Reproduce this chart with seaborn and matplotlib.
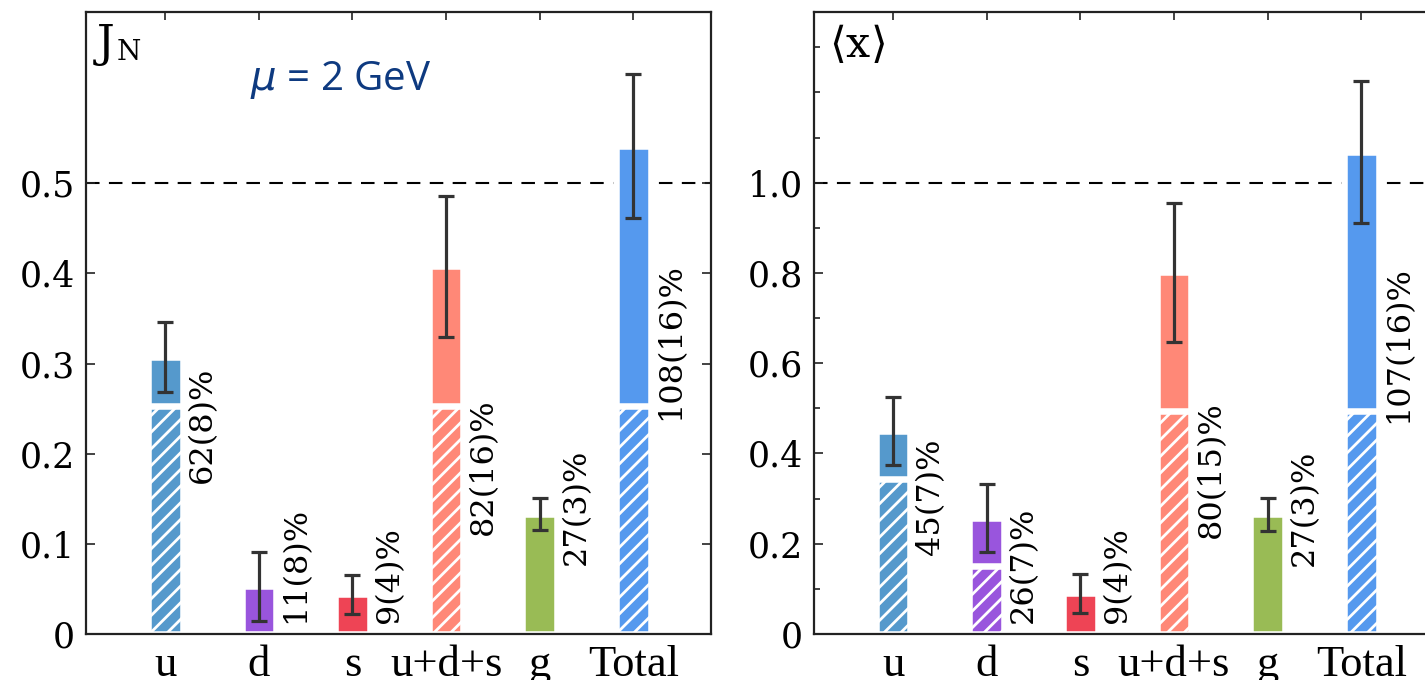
import numpy as np
import pandas as pd
import matplotlib
matplotlib.use("Agg")
import matplotlib.pyplot as plt
import seaborn as sns
from matplotlib.ticker import FixedLocator, FixedFormatter

# ---------------- data ----------------
categories = ["u", "d", "s", "u+d+s", "g", "Total"]
colors = ["#5599cc", "#9955dd", "#ee4455", "#ff8877", "#99bb55", "#5599ee"]

# Left panel: J_N
J_values = [0.307, 0.053, 0.044, 0.408, 0.133, 0.541]
J_errors = [0.039, 0.038, 0.022, 0.078, 0.018, 0.080]
J_hatched = [0.253, 0.0, 0.0, 0.253, 0.0, 0.253]
J_labels = ["62(8)%", "11(8)%", "9(4)%", "82(16)%", "27(3)%", "108(16)%"]

# Right panel: <x>
X_values = [0.450, 0.257, 0.090, 0.802, 0.265, 1.068]
X_errors = [0.075, 0.075, 0.043, 0.154, 0.036, 0.158]
X_hatched = [0.343, 0.150, 0.0, 0.494, 0.0, 0.494]
X_labels = ["45(7)%", "26(7)%", "9(4)%", "80(15)%", "27(3)%", "107(16)%"]

J_ticks = [0, 0.1, 0.2, 0.3, 0.4, 0.5]
J_ticklabels = ["0", "0.1", "0.2", "0.3", "0.4", "0.5"]
X_ticks = [0, 0.2, 0.4, 0.6, 0.8, 1.0]
X_ticklabels = ["0", "0.2", "0.4", "0.6", "0.8", "1.0"]
X_minor = [0.1, 0.3, 0.5, 0.7, 0.9, 1.1, 1.2, 1.3]

# layout-only: bottom of each rotated percentage label (data units)
J_label_bottom = [0.167, 0.012, 0.012, 0.110, 0.077, 0.237]
X_label_bottom = [0.175, 0.024, 0.024, 0.212, 0.150, 0.467]

# ---------------- style ----------------
sns.set_style("ticks")
plt.rcParams["font.family"] = ["DejaVu Serif"]
plt.rcParams["hatch.linewidth"] = 2.0
plt.rcParams["text.color"] = "black"
plt.rcParams["xtick.color"] = "black"
plt.rcParams["ytick.color"] = "black"
plt.rcParams["xtick.labelcolor"] = "black"
plt.rcParams["ytick.labelcolor"] = "black"
SERIF = "DejaVu Serif"
XSERIF = "Liberation Serif"

fig = plt.figure(figsize=(14.25, 6.8), dpi=100)
axL = fig.add_axes([0.0604, 0.0676, 0.4386, 0.9147])
axR = fig.add_axes([0.5712, 0.0676, 0.4386, 0.9147])

BAR_W = 0.37
EDGE_LW = 4.7


def draw_panel(ax, values, errors, hatched, labels, label_bottom, ref, ylim):
    df = pd.DataFrame({"cat": categories, "val": values, "hat": hatched})
    pal = dict(zip(categories, colors))
    ax.axhline(ref, color="black", lw=1.5, ls=(0, (6.5, 4.5)), zorder=0.5)
    # full solid bars
    sns.barplot(data=df, x="cat", y="val", hue="cat", palette=pal, order=categories,
                hue_order=categories, width=BAR_W, edgecolor="white", linewidth=EDGE_LW,
                saturation=1, legend=False, ax=ax, zorder=1)
    n_before = len(ax.patches)
    # hatched lower parts
    sns.barplot(data=df, x="cat", y="hat", hue="cat", palette=pal, order=categories,
                hue_order=categories, width=BAR_W, edgecolor="white", linewidth=EDGE_LW,
                saturation=1, legend=False, ax=ax, zorder=1.2)
    for p in ax.patches[n_before:]:
        if p.get_height() > 0:
            p.set_hatch("//")
        else:
            p.set_visible(False)
    xs = np.arange(len(categories))
    ax.errorbar(xs, values, yerr=errors, fmt="none", ecolor="#333333", elinewidth=2.3,
                capsize=5.5, capthick=2.3, zorder=3)
    for i, (lab, yb) in enumerate(zip(labels, label_bottom)):
        ax.text(i + 0.23, yb, lab, rotation=90, ha="left", va="bottom",
                fontsize=23, family=SERIF, color="black", zorder=4)
    ax.set_xlim(-0.845, 5.83)
    ax.set_ylim(*ylim)
    ax.set_xlabel("")
    ax.set_ylabel("")
    ax.set_xticks(xs)
    ax.set_xticklabels(categories, fontsize=32, family=XSERIF, color="black")
    ax.tick_params(axis="x", which="major", direction="in", top=True, bottom=True,
                   length=6, width=1.2, pad=8, color="#222222")
    ax.tick_params(axis="y", which="both", direction="in", left=True, right=True,
                   width=1.2, pad=8, color="#222222", labelsize=25)
    ax.tick_params(axis="y", which="major", length=6.5)
    ax.tick_params(axis="y", which="minor", length=4)
    for s in ax.spines.values():
        s.set_linewidth(1.6)
        s.set_color("#222222")
        s.set_visible(True)


draw_panel(axL, J_values, J_errors, J_hatched, J_labels, J_label_bottom, 0.5, (0, 0.69))
axL.yaxis.set_major_locator(FixedLocator(J_ticks))
axL.yaxis.set_major_formatter(FixedFormatter(J_ticklabels))

draw_panel(axR, X_values, X_errors, X_hatched, X_labels, X_label_bottom, 1.0, (0, 1.378))
axR.yaxis.set_major_locator(FixedLocator(X_ticks))
axR.yaxis.set_major_formatter(FixedFormatter(X_ticklabels))
axR.yaxis.set_minor_locator(FixedLocator(X_minor))

for ax in (axL, axR):
    for lab in ax.get_yticklabels():
        lab.set_family(SERIF)
        lab.set_fontsize(25)
        lab.set_color("black")

# panel titles
axL.text(0.017, 0.982, "J", transform=axL.transAxes, ha="left", va="top",
         fontsize=32, family=SERIF)
axL.text(0.049, 0.957, "N", transform=axL.transAxes, ha="left", va="top",
         fontsize=20, family=SERIF)
axL.text(0.262, 0.89, r"$\mu$ = 2 GeV", transform=axL.transAxes, ha="left", va="center",
         fontsize=29, family="Open Sans", math_fontfamily="dejavusans", color="#0e3a80")
axR.text(0.024, 0.982, r"$\langle\mathrm{x}\rangle$", transform=axR.transAxes,
         ha="left", va="top", fontsize=31, math_fontfamily="dejavuserif")

fig.savefig("out.png", dpi=100)
